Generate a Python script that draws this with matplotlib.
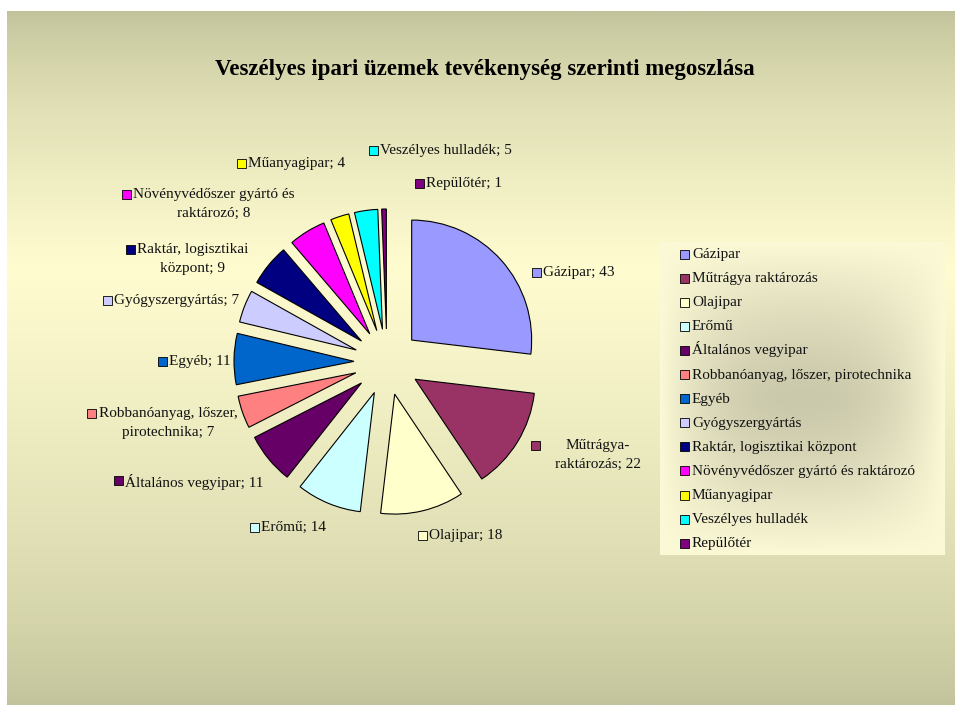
import numpy as np
import matplotlib as mpl
mpl.use('Agg')
import matplotlib.pyplot as plt
from matplotlib.patches import Rectangle

plt.rcParams['font.family'] = ['Liberation Serif', 'DejaVu Serif']

# Data
names = ['Gázipar', 'Műtrágya raktározás', 'Olajipar', 'Erőmű', 'Általános vegyipar',
         'Robbanóanyag, lőszer, pirotechnika', 'Egyéb', 'Gyógyszergyártás',
         'Raktár, logisztikai központ', 'Növényvédőszer gyártó és raktározó',
         'Műanyagipar', 'Veszélyes hulladék', 'Repülőtér']
label_names = ['Gázipar', 'Műtrágya-\nraktározás', 'Olajipar', 'Erőmű', 'Általános vegyipar',
               'Robbanóanyag, lőszer,\npirotechnika', 'Egyéb', 'Gyógyszergyártás',
               'Raktár, logisztikai\nközpont', 'Növényvédőszer gyártó és\nraktározó',
               'Műanyagipar', 'Veszélyes hulladék', 'Repülőtér']
counts = [43, 22, 18, 14, 11, 7, 11, 7, 9, 8, 4, 5, 1]
colors = ['#9999FF', '#993366', '#FFFFCC', '#CCFFFF', '#660066', '#FF8080', '#0066CC',
          '#CCCCFF', '#000080', '#FF00FF', '#FFFF00', '#00FFFF', '#800080']
title = 'Veszélyes ipari üzemek tevékenység szerinti megoszlása'

W, H = 955, 705

# label square positions (pixels, from top-left)
label_pos = [(536, 272), (535, 445), (422, 535), (254, 527), (118, 480), (91, 413),
             (162, 361), (107, 300), (130, 249), (126, 194), (241, 163), (373, 150),
             (419, 183)]
label_text_x = [543, 555, 429, 261, 125, 99, 169, 114, 137, 133, 248, 380, 426]

fig = plt.figure(figsize=(W / 100, H / 100), dpi=100)
ax = fig.add_axes([0, 0, 1, 1])

# slide background: olive at top and bottom, cream band in the upper middle
yy = np.linspace(0, 1, 400)
top = np.array([0xc1, 0xc2, 0x9a]) / 255
mid = np.array([0xff, 0xfc, 0xd0]) / 255
peak = 0.37
t = np.where(yy < peak, yy / peak, (1 - yy) / (1 - peak))
t = np.clip(t, 0, 1) ** 0.7
grad = top[None, :] * (1 - t[:, None]) + mid[None, :] * t[:, None]
ax.imshow(grad[:, None, :], extent=(7, W, 0, H - 11), aspect='auto', zorder=0)

# exploded pie (explode offsets are in data units here, i.e. pixels)
radius = 120
cx, cy = 387, H - 362
wedges, _ = ax.pie(counts, colors=colors, startangle=90, counterclock=False,
                   radius=radius, center=(cx, cy), explode=[33] * len(counts),
                   wedgeprops=dict(edgecolor='black', linewidth=0.8), frame=True)
ax.set_xlim(0, W)
ax.set_ylim(0, H)
ax.set_aspect('equal')
ax.axis('off')

# slice labels with colour keys
for i in range(len(counts)):
    sx, sy = label_pos[i]
    ax.add_patch(Rectangle((sx - 4.5, H - sy - 4.5), 9, 9, facecolor=colors[i],
                           edgecolor='black', linewidth=0.6, zorder=5))
    ax.text(label_text_x[i], H - sy + 6, f'{label_names[i]}; {counts[i]}',
            ha='left', va='top', multialignment='center', fontsize=11,
            linespacing=1.6, color='#111111', zorder=5)

# legend box with gradient fill
lx0, lx1, ly0, ly1 = 660, 944, 242, 555
u = np.linspace(-1, 1, 300)
v = np.linspace(-1, 1, 150)
U, V = np.meshgrid(u, v)
dark = (1 - np.abs(U) ** 2.5) * (1 - np.abs(V) ** 1.4)
edge_c = np.array([0xfc, 0xf9, 0xd6]) / 255
center_c = np.array([0xcb, 0xc9, 0xab]) / 255
box = edge_c * (1 - dark[..., None]) + center_c * dark[..., None]
ax.imshow(box, extent=(lx0, lx1, H - ly1, H - ly0), aspect='auto', zorder=1)

# legend rows
row0, row_step = 254, 24.1
for i, name in enumerate(names):
    ry = H - (row0 + i * row_step)
    ax.add_patch(Rectangle((680, ry - 4.5), 9, 9, facecolor=colors[i],
                           edgecolor='black', linewidth=0.6, zorder=5))
    ax.text(692, ry - 4, name, ha='left', va='baseline', fontsize=11,
            color='#111111', zorder=5)

fig.text(485 / W, 1 - 70 / H, title, ha='center', va='center',
         fontsize=16.5, fontweight='bold', color='black')

fig.savefig('out.png', dpi=100, facecolor='white')
